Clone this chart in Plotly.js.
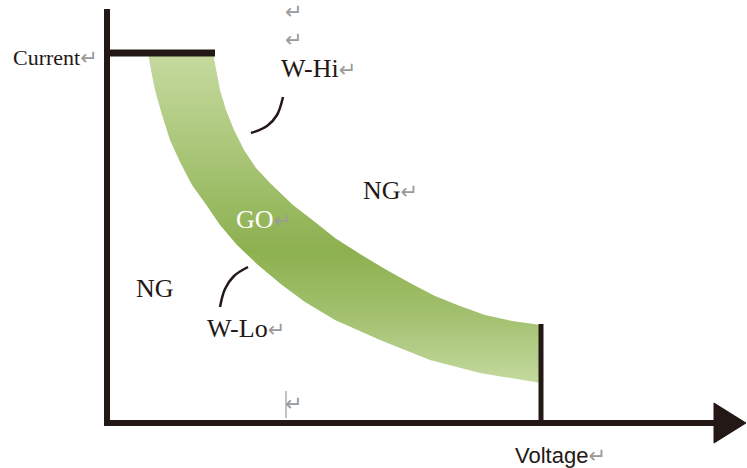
<!DOCTYPE html>
<html><head><meta charset="utf-8">
<script src="https://cdn.plot.ly/plotly-3.0.1.min.js"></script>
<style>html,body{margin:0;padding:0;background:#fff}</style>
</head><body>
<div id="chart" style="width:747px;height:468px"></div>
<script>
// Diagram coordinates (schematic: voltage to the right, current upward; y counted downward on the page)
const upperEdgeX = [213,216,220,226,234,244,256,271,293,315,335,360,385,410,435,460,485,512,541];
const upperEdgeY = [53,70,90,110,130,150,168,184,205,222,238,254,269,283,296,306,315,321,325];
const lowerEdgeX = [148,151,155,162,170,180,192,205,220,237,258,282,305,335,380,430,480,510,541];
const lowerEdgeY = [53,70,90,115,140,162,185,203,225,245,265,285,302,320,340,360,373,378,383];

const currentAxisX = [107,107];   const currentAxisY = [9,426];
const voltageAxisX = [104,718];   const voltageAxisY = [423,423];
const arrowX = [714,746,714,714]; const arrowY = [403,423,443,403];
const currentLimitX = [104,215];  const currentLimitY = [53,53];
const voltageLimitX = [541,541];  const voltageLimitY = [324,423];
const wHiLeaderX = [283,277,267,251]; const wHiLeaderY = [97,115,126,133];
const wLoLeaderX = [248,234,225,220]; const wLoLeaderY = [267,276,289,307];
const cursorX = [286,286];        const cursorY = [391,418];

const labelText = ['Current','W-Hi','NG','GO','NG','W-Lo','Voltage'];
const labelX    = [11, 279, 361, 234, 134, 205, 513];
const labelY    = [57, 68, 190, 219, 288, 328, 455];
const labelHasReturn = [true,true,true,true,false,true,true];
const returnMarkX = [283,283,283];
const returnMarkY = [12,40,404];

const ink = '#231815';
const RET = '<span style="color:#9a9a9a;font-family:DejaVu Sans;font-size:21px">↵</span>';

const band = {
  x: upperEdgeX.concat(lowerEdgeX.slice().reverse()),
  y: upperEdgeY.concat(lowerEdgeY.slice().reverse()),
  mode: 'lines', line: {width: 0, color: 'rgba(0,0,0,0)'},
  fill: 'toself',
  fillcolor: '#a6c472',
  fillgradient: {type: 'vertical', start: 53, stop: 383,
    colorscale: [[0,'#c6da9f'],[0.3,'#a9c678'],[0.6,'#8db04f'],[0.8,'#a3c170'],[1,'#c4d99f']]},
  hoverinfo: 'skip'
};
function seg(x, y, w, shape, color) {
  return {x, y, mode: 'lines', line: {color: color || ink, width: w, shape: shape || 'linear'}, hoverinfo: 'skip'};
}
const traces = [
  band,
  seg(currentAxisX, currentAxisY, 6),
  seg(voltageAxisX, voltageAxisY, 6),
  {x: arrowX, y: arrowY, mode: 'lines', fill: 'toself', fillcolor: ink, line: {color: ink, width: 1}, hoverinfo: 'skip'},
  seg(currentLimitX, currentLimitY, 7),
  seg(voltageLimitX, voltageLimitY, 5),
  seg(wHiLeaderX, wHiLeaderY, 2.5, 'spline'),
  seg(wLoLeaderX, wLoLeaderY, 2.5, 'spline'),
  seg(cursorX, cursorY, 1.2, 'linear', '#9a9a9a')
];

const annotations = [];
labelText.forEach((t, i) => {
  let font = {family: 'Liberation Serif', size: 26, color: ink};
  if (t === 'Current') font.size = 22;
  if (t === 'GO') font.color = '#ffffff';
  if (t === 'Voltage') font = {family: 'Liberation Sans', size: 22, color: ink};
  annotations.push({x: labelX[i], y: labelY[i], xref: 'x', yref: 'y', xanchor: 'left', yanchor: 'middle',
    text: t + (labelHasReturn[i] ? RET : ''), showarrow: false, font});
});
returnMarkX.forEach((x, i) => {
  annotations.push({x, y: returnMarkY[i], xref: 'x', yref: 'y', xanchor: 'left', yanchor: 'middle',
    text: RET, showarrow: false});
});

const layout = {
  width: 747, height: 468, margin: {l: 0, r: 0, t: 0, b: 0},
  paper_bgcolor: '#ffffff', plot_bgcolor: '#ffffff', showlegend: false,
  xaxis: {range: [0, 747], visible: false, fixedrange: true},
  yaxis: {range: [468, 0], visible: false, fixedrange: true},
  annotations
};
Plotly.newPlot('chart', traces, layout, {displayModeBar: false, staticPlot: true});
</script>
</body></html>
